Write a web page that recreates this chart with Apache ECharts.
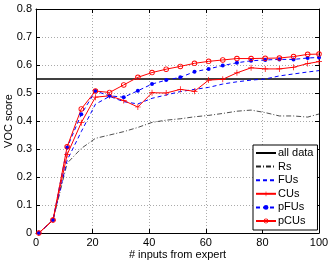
<!DOCTYPE html>
<html><head><meta charset="utf-8">
<script src="https://cdn.jsdelivr.net/npm/echarts@6/dist/echarts.min.js"></script>
<style>html,body{margin:0;padding:0;background:#fff}#c{width:332px;height:261px}</style>
</head><body><div id="c"></div>
<script>
const xInputs = [1,6,11,16,21,26,31,36,41,46,51,56,61,66,71,76,81,86,91,96,100];
const allDataX = [0,100];
const allDataY = [0.55,0.55];
const rs   = [0,0.046,0.249,0.302,0.338,0.35,0.362,0.377,0.395,0.403,0.408,0.415,0.42,0.427,0.435,0.439,0.43,0.418,0.418,0.414,0.425];
const fus  = [0,0.046,0.26,0.362,0.46,0.488,0.469,0.461,0.481,0.493,0.505,0.513,0.52,0.532,0.54,0.546,0.55,0.561,0.568,0.575,0.58];
const cus  = [0,0.046,0.28,0.394,0.485,0.49,0.473,0.45,0.501,0.5,0.513,0.506,0.546,0.549,0.572,0.59,0.586,0.586,0.592,0.605,0.612];
const pfus = [0,0.046,0.305,0.424,0.507,0.49,0.485,0.508,0.532,0.546,0.556,0.576,0.586,0.598,0.608,0.615,0.618,0.62,0.62,0.625,0.627];
const pcus = [0,0.046,0.308,0.443,0.507,0.502,0.529,0.556,0.573,0.585,0.595,0.606,0.613,0.618,0.623,0.623,0.624,0.625,0.63,0.638,0.639];
const xTicks = [0,20,40,60,80,100];
const yTicks = ['0','0.1','0.2','0.3','0.4','0.5','0.6','0.7','0.8'];

const pair = (xs, ys) => xs.map((x,i)=>[x, ys[i]]);
const plus = 'path://M4.4,0h1.2v4.4h4.4v1.2h-4.4v4.4h-1.2v-4.4h-4.4v-1.2h4.4z';
const ring = 'path://M5,0A5,5 0 1,1 4.99,0Z M5,1.6A3.4,3.4 0 1,0 5.01,1.6Z';
const font = 'Liberation Sans, Arial, sans-serif';
const chart = echarts.init(document.getElementById('c'), null, {renderer:'canvas'});
const tickFmtY = v => { const s = Math.round(v*10)/10; return yTicks[Math.round(s*10)] ?? String(s); };
const axisBase = {
  axisLine:{show:true, onZero:false, lineStyle:{color:'#000', width:1}},
  axisTick:{show:true, inside:true, length:4, lineStyle:{color:'#000'}},
};
const hideSym = {color:'rgba(0,0,0,0)', borderWidth:0, opacity:0};
chart.setOption({
  animation:false,
  grid:{left:36, right:13, top:9, bottom:28, containLabel:false, outerBoundsMode:'none'},
  xAxis:[
    Object.assign({type:'value', min:0, max:100, interval:20, position:'bottom',
      name:'# inputs from expert', nameLocation:'middle', nameGap:16, nameMoveOverlap:false,
      nameTextStyle:{fontFamily:font, fontSize:11, color:'#000'},
      axisLabel:{fontFamily:font, fontSize:11, color:'#000', margin:4},
      splitLine:{show:true, lineStyle:{type:[1,2], color:'#aaa', width:1}}}, axisBase),
    Object.assign({type:'value', min:0, max:100, interval:20, position:'top',
      axisLabel:{show:false}, splitLine:{show:false}}, axisBase)
  ],
  yAxis:[
    Object.assign({type:'value', min:0, max:0.8, interval:0.1, position:'left',
      name:'VOC score', nameLocation:'middle', nameGap:22, nameMoveOverlap:false,
      nameTextStyle:{fontFamily:font, fontSize:11, color:'#000'},
      axisLabel:{fontFamily:font, fontSize:11, color:'#000', margin:4, formatter:tickFmtY},
      splitLine:{show:true, lineStyle:{type:[1,2], color:'#aaa', width:1}}}, axisBase),
    Object.assign({type:'value', min:0, max:0.8, interval:0.1, position:'right',
      axisLabel:{show:false}, splitLine:{show:false}}, axisBase)
  ],
  legend:{
    orient:'vertical', left:253, top:145, padding:[2,4,3,2],
    backgroundColor:'#fff', borderColor:'#000', borderWidth:1,
    itemWidth:20, itemHeight:6, itemGap:1.6,
    textStyle:{fontFamily:font, fontSize:11, lineHeight:12, color:'#000', padding:[0,0,0,-3]},
    data:[
      {name:'all data', itemStyle:hideSym},
      {name:'Rs', itemStyle:hideSym},
      {name:'FUs', itemStyle:hideSym},
      {name:'CUs'},
      {name:'pFUs'},
      {name:'pCUs'}
    ]
  },
  series:[
    {name:'all data', type:'line', data:pair(allDataX, allDataY), symbol:'none',
      lineStyle:{color:'#000', width:1.6}, itemStyle:{color:'#000'}},
    {name:'Rs', type:'line', data:pair(xInputs, rs), symbol:'none',
      lineStyle:{color:'#222', width:0.8, type:[5,2,1,2]}, itemStyle:{color:'#222'}},
    {name:'FUs', type:'line', data:pair(xInputs, fus), symbol:'none',
      lineStyle:{color:'#0000ff', width:1, type:[4,3]}, itemStyle:{color:'#0000ff'}},
    {name:'CUs', type:'line', data:pair(xInputs, cus), symbol:plus, symbolSize:6,
      lineStyle:{color:'#ff0000', width:1}, itemStyle:{color:'#ff0000'}},
    {name:'pFUs', type:'line', data:pair(xInputs, pfus), symbol:'circle', symbolSize:4,
      lineStyle:{color:'#0000ff', width:1, type:[4,3]}, itemStyle:{color:'#0000ff'}},
    {name:'pCUs', type:'line', data:pair(xInputs, pcus), symbol:ring, symbolSize:5.5,
      lineStyle:{color:'#ff0000', width:1}, itemStyle:{color:'#ff0000', borderWidth:0}}
  ]
});
</script></body></html>
